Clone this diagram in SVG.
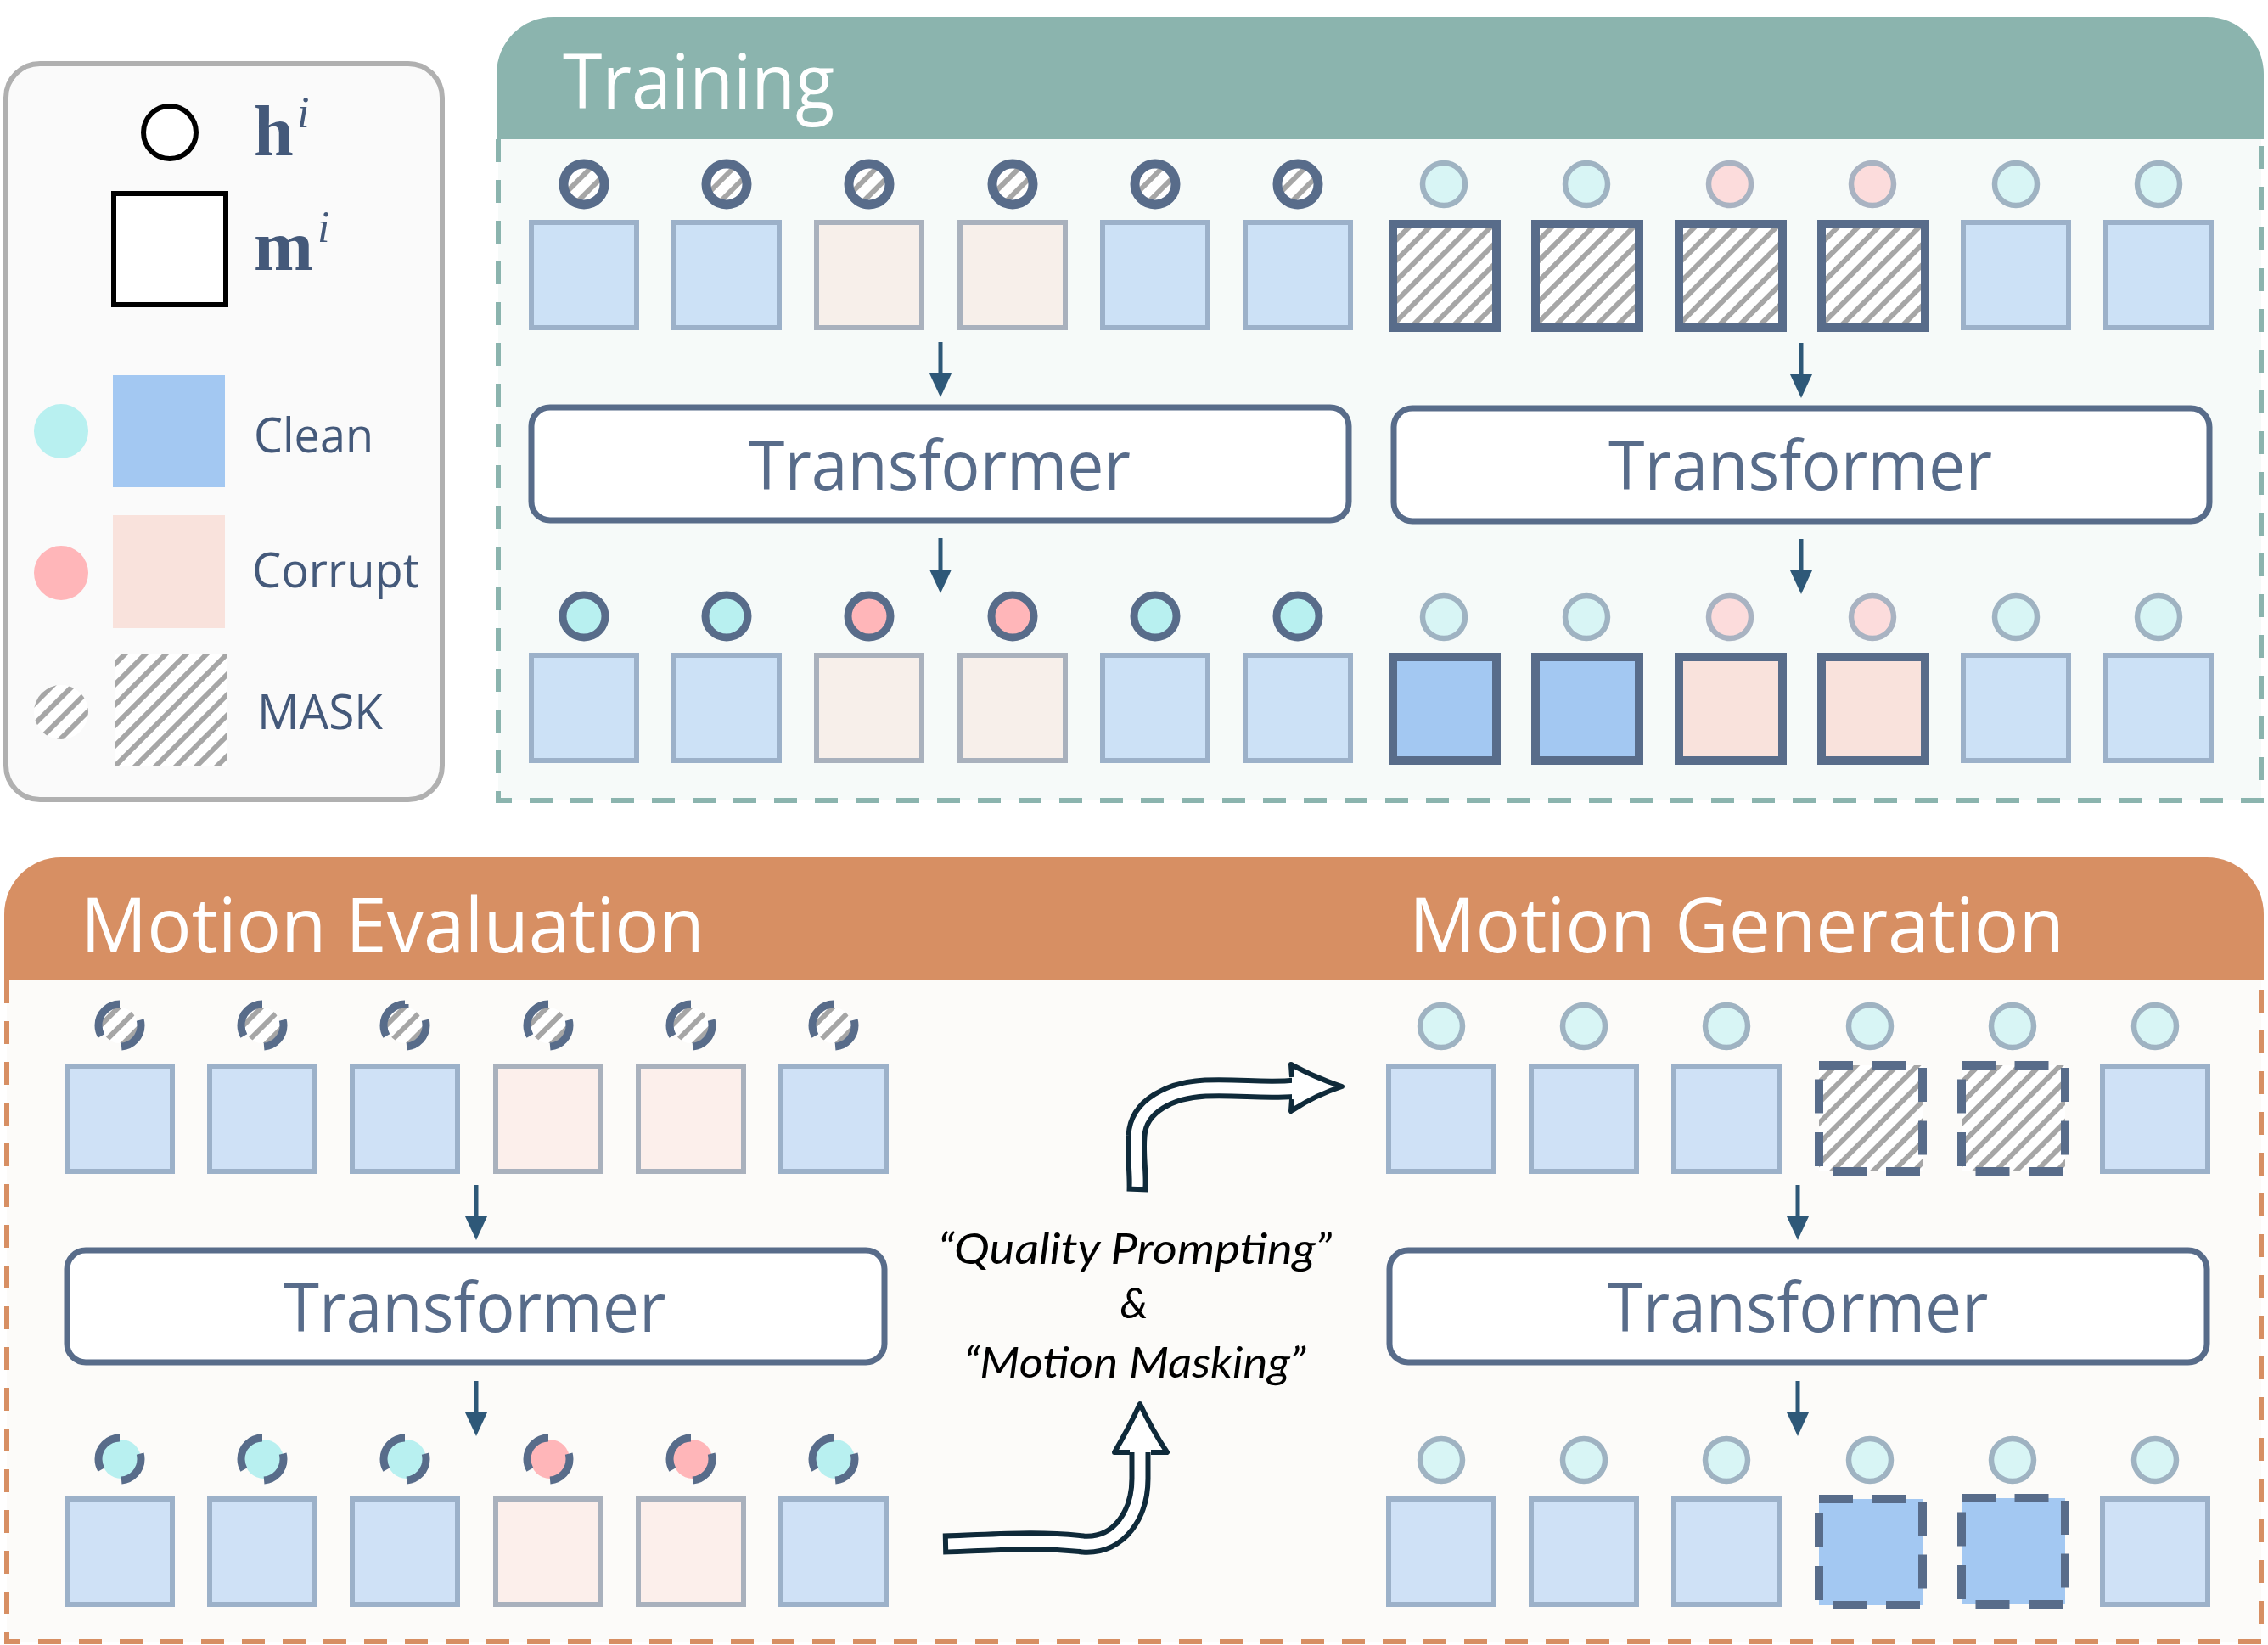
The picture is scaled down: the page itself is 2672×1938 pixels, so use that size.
<svg xmlns="http://www.w3.org/2000/svg" width="2672" height="1938" viewBox="0 0 2672 1938">
<defs>
<pattern id="hatch" patternUnits="userSpaceOnUse" width="17" height="17" patternTransform="rotate(45)">
<rect width="17" height="17" fill="#ffffff"/><rect width="6" height="17" fill="#a6a6a6"/>
</pattern>
<marker id="ah" markerUnits="userSpaceOnUse" markerWidth="28" markerHeight="28" viewBox="0 0 28 28" refX="17" refY="14" orient="auto">
<path d="M0,1 L28,14 L0,27 Z" fill="#2e5878"/>
</marker>
<style>
.sqB{fill:#cce1f6;stroke:#9cb1c9;stroke-width:6}
.sqP{fill:#f7efea;stroke:#a9b1bd;stroke-width:6}
.sqBe{fill:#cfe1f6;stroke:#9cb1c9;stroke-width:6}
.sqPe{fill:#fcefeb;stroke:#a9b1bd;stroke-width:6}
.sqH{fill:url(#hatch);stroke:#586c8a;stroke-width:10}
.sqDB{fill:#a3c8f2;stroke:#586c8a;stroke-width:10}
.sqDP{fill:#f9e2dc;stroke:#586c8a;stroke-width:10}
.sqHd{fill:url(#hatch);stroke:#586c8a;stroke-width:10;stroke-dasharray:40 22.5}
.sqBd{fill:#a3c8f2;stroke:#586c8a;stroke-width:10;stroke-dasharray:40 22.5}
.rH{fill:url(#hatch);stroke:#586c8a;stroke-width:11}
.rC{fill:#b8f0f0;stroke:#586c8a;stroke-width:9}
.rP{fill:#ffb6b9;stroke:#586c8a;stroke-width:9}
.lC{fill:#d8f5f5;stroke:#9fb3c2;stroke-width:6.5}
.lP{fill:#fcdcdc;stroke:#a9b3c2;stroke-width:6.5}
.brk{fill:none;stroke:#586c8a;stroke-width:9;stroke-dasharray:100 65 120 75;stroke-dashoffset:15}
.tf{fill:#ffffff;stroke:#586c8a;stroke-width:7}
.tft{font-family:'Open Sans','Noto Sans',sans-serif;font-size:81px;fill:#586c8a;text-anchor:middle}
.hdr{font-family:'Open Sans','Noto Sans',sans-serif;font-size:90px;fill:#ffffff}
.leg{font-family:'Open Sans','Noto Sans',sans-serif;font-size:57px;fill:#44597a}
.arr{stroke:#2e5878;stroke-width:5;fill:none}
.hand{font-family:'Lato','Noto Sans',sans-serif;font-style:italic;font-size:50px;fill:#000000;text-anchor:middle}
.hd{fill:none;stroke:#0f2a3a;stroke-width:25}
.hw{fill:none;stroke:#ffffff;stroke-width:13}
.hh{fill:#ffffff;stroke:#0f2a3a;stroke-width:6;stroke-linejoin:round}
</style>
</defs>
<rect width="2672" height="1938" fill="#ffffff"/>

<g id="legend">
<rect x="7" y="75" width="514" height="867" rx="40" fill="#fafafa" stroke="#b0b0b0" stroke-width="6"/>
<circle cx="200" cy="156" r="31" fill="#ffffff" stroke="#000000" stroke-width="6"/>
<text x="299" y="183" font-family="'Liberation Serif',serif" font-weight="bold" font-size="84" fill="#44597a">h</text>
<text x="350" y="150" font-family="'Liberation Serif',serif" font-style="italic" font-size="52" fill="#44597a">i</text>
<rect x="134" y="228" width="132" height="131" fill="#ffffff" stroke="#000000" stroke-width="6"/>
<text x="299" y="318" font-family="'Liberation Serif',serif" font-weight="bold" font-size="84" fill="#44597a">m</text>
<text x="374" y="285" font-family="'Liberation Serif',serif" font-style="italic" font-size="52" fill="#44597a">i</text>
<circle cx="72" cy="508" r="32" fill="#b8f0f0"/>
<rect x="133" y="442" width="132" height="132" fill="#a3c8f2"/>
<text class="leg" x="299" y="533" textLength="141" lengthAdjust="spacingAndGlyphs">Clean</text>
<circle cx="72" cy="675" r="32" fill="#ffb6b9"/>
<rect x="133" y="607" width="132" height="133" fill="#f9e2dc"/>
<text class="leg" x="297" y="692" textLength="197" lengthAdjust="spacingAndGlyphs">Corrupt</text>
<circle cx="72" cy="839" r="32" fill="url(#hatch)"/>
<rect x="135" y="771" width="132" height="131" fill="url(#hatch)"/>
<text class="leg" x="303" y="859" textLength="148" lengthAdjust="spacingAndGlyphs">MASK</text>
</g>

<g id="training-panel">
<path d="M587,164 V943 H2664 V164" fill="#f6faf9" stroke="#8bb4ae" stroke-width="6" stroke-dasharray="27 21"/>
<path d="M585,164 V87 A67,67 0 0 1 652,20 H2600 A67,67 0 0 1 2667,87 V164 Z" fill="#8bb4ae"/>
<text class="hdr" x="663" y="128" textLength="320" lengthAdjust="spacingAndGlyphs">Training</text>
</g>

<g id="eval-gen-panel">
<path d="M8,1155 V1934 H2664 V1155" fill="#fcfbf9" stroke="#d78f63" stroke-width="6" stroke-dasharray="27 21"/>
<path d="M5,1155 V1077 A67,67 0 0 1 72,1010 H2600 A67,67 0 0 1 2667,1077 V1155 Z" fill="#d78f63"/>
<text class="hdr" x="95" y="1122" textLength="735" lengthAdjust="spacingAndGlyphs">Motion Evaluation</text>
<text class="hdr" x="1660" y="1122" textLength="772" lengthAdjust="spacingAndGlyphs">Motion Generation</text>
</g>

<g id="training-left-input">
<rect class="sqB" x="626" y="262" width="124" height="124"/>
<rect class="sqB" x="794" y="262" width="124" height="124"/>
<rect class="sqP" x="962" y="262" width="124" height="124"/>
<rect class="sqP" x="1131" y="262" width="124" height="124"/>
<rect class="sqB" x="1299" y="262" width="124" height="124"/>
<rect class="sqB" x="1467" y="262" width="124" height="124"/>
<circle class="rH" cx="688" cy="217" r="24"/>
<circle class="rH" cx="856" cy="217" r="24"/>
<circle class="rH" cx="1024" cy="217" r="24"/>
<circle class="rH" cx="1193" cy="217" r="24"/>
<circle class="rH" cx="1361" cy="217" r="24"/>
<circle class="rH" cx="1529" cy="217" r="24"/>
</g>

<g id="training-right-input">
<rect class="sqH" x="1641" y="264" width="122" height="122"/>
<rect class="sqH" x="1809" y="264" width="122" height="122"/>
<rect class="sqH" x="1978" y="264" width="122" height="122"/>
<rect class="sqH" x="2146" y="264" width="122" height="122"/>
<rect class="sqB" x="2313" y="262" width="124" height="124"/>
<rect class="sqB" x="2481" y="262" width="124" height="124"/>
<circle class="lC" cx="1701" cy="217" r="25"/>
<circle class="lC" cx="1869" cy="217" r="25"/>
<circle class="lP" cx="2038" cy="217" r="25"/>
<circle class="lP" cx="2206" cy="217" r="25"/>
<circle class="lC" cx="2375" cy="217" r="25"/>
<circle class="lC" cx="2543" cy="217" r="25"/>
</g>

<g id="transformer-train-left">
<rect class="tf" x="626" y="480" width="963" height="133" rx="22"/>
<text class="tft" x="1107" y="577" textLength="450" lengthAdjust="spacingAndGlyphs">Transformer</text>
</g>
<g id="transformer-train-right">
<rect class="tf" x="1642" y="481" width="961" height="133" rx="22"/>
<text class="tft" x="2121" y="577" textLength="452" lengthAdjust="spacingAndGlyphs">Transformer</text>
</g>

<g id="training-left-output">
<rect class="sqB" x="626" y="772" width="124" height="124"/>
<rect class="sqB" x="794" y="772" width="124" height="124"/>
<rect class="sqP" x="962" y="772" width="124" height="124"/>
<rect class="sqP" x="1131" y="772" width="124" height="124"/>
<rect class="sqB" x="1299" y="772" width="124" height="124"/>
<rect class="sqB" x="1467" y="772" width="124" height="124"/>
<circle class="rC" cx="688" cy="726" r="25"/>
<circle class="rC" cx="856" cy="726" r="25"/>
<circle class="rP" cx="1024" cy="726" r="25"/>
<circle class="rP" cx="1193" cy="726" r="25"/>
<circle class="rC" cx="1361" cy="726" r="25"/>
<circle class="rC" cx="1529" cy="726" r="25"/>
</g>

<g id="training-right-output">
<rect class="sqDB" x="1641" y="774" width="122" height="122"/>
<rect class="sqDB" x="1809" y="774" width="122" height="122"/>
<rect class="sqDP" x="1978" y="774" width="122" height="122"/>
<rect class="sqDP" x="2146" y="774" width="122" height="122"/>
<rect class="sqB" x="2313" y="772" width="124" height="124"/>
<rect class="sqB" x="2481" y="772" width="124" height="124"/>
<circle class="lC" cx="1701" cy="727" r="25"/>
<circle class="lC" cx="1869" cy="727" r="25"/>
<circle class="lP" cx="2038" cy="727" r="25"/>
<circle class="lP" cx="2206" cy="727" r="25"/>
<circle class="lC" cx="2375" cy="727" r="25"/>
<circle class="lC" cx="2543" cy="727" r="25"/>
</g>

<g id="eval-input">
<rect class="sqBe" x="79" y="1256" width="124" height="124"/>
<rect class="sqBe" x="247" y="1256" width="124" height="124"/>
<rect class="sqBe" x="415" y="1256" width="124" height="124"/>
<rect class="sqPe" x="584" y="1256" width="124" height="124"/>
<rect class="sqPe" x="752" y="1256" width="124" height="124"/>
<rect class="sqBe" x="920" y="1256" width="124" height="124"/>
<g fill="url(#hatch)">
<circle cx="141" cy="1208" r="21"/><circle cx="309" cy="1208" r="21"/><circle cx="477" cy="1208" r="21"/>
<circle cx="646" cy="1208" r="21"/><circle cx="814" cy="1208" r="21"/><circle cx="982" cy="1208" r="21"/>
</g>
<g class="brk">
<circle cx="141" cy="1208" r="25" pathLength="360"/><circle cx="309" cy="1208" r="25" pathLength="360"/><circle cx="477" cy="1208" r="25" pathLength="360"/>
<circle cx="646" cy="1208" r="25" pathLength="360"/><circle cx="814" cy="1208" r="25" pathLength="360"/><circle cx="982" cy="1208" r="25" pathLength="360"/>
</g>
</g>

<g id="transformer-eval">
<rect class="tf" x="79" y="1473" width="963" height="132" rx="22"/>
<text class="tft" x="559" y="1569" textLength="451" lengthAdjust="spacingAndGlyphs">Transformer</text>
</g>

<g id="eval-output">
<rect class="sqBe" x="79" y="1766" width="124" height="124"/>
<rect class="sqBe" x="247" y="1766" width="124" height="124"/>
<rect class="sqBe" x="415" y="1766" width="124" height="124"/>
<rect class="sqPe" x="584" y="1766" width="124" height="124"/>
<rect class="sqPe" x="752" y="1766" width="124" height="124"/>
<rect class="sqBe" x="920" y="1766" width="124" height="124"/>
<circle cx="143" cy="1719" r="23" fill="#b8f0f0"/><circle cx="311" cy="1719" r="23" fill="#b8f0f0"/><circle cx="479" cy="1719" r="23" fill="#b8f0f0"/>
<circle cx="648" cy="1719" r="23" fill="#ffb6b9"/><circle cx="816" cy="1719" r="23" fill="#ffb6b9"/><circle cx="984" cy="1719" r="23" fill="#b8f0f0"/>
<g class="brk">
<circle cx="141" cy="1719" r="25" pathLength="360"/><circle cx="309" cy="1719" r="25" pathLength="360"/><circle cx="477" cy="1719" r="25" pathLength="360"/>
<circle cx="646" cy="1719" r="25" pathLength="360"/><circle cx="814" cy="1719" r="25" pathLength="360"/><circle cx="982" cy="1719" r="25" pathLength="360"/>
</g>
</g>

<g id="gen-input">
<rect class="sqBe" x="1636" y="1256" width="124" height="124"/>
<rect class="sqBe" x="1804" y="1256" width="124" height="124"/>
<rect class="sqBe" x="1972" y="1256" width="124" height="124"/>
<rect class="sqHd" x="2143" y="1255" width="122" height="125"/>
<rect class="sqHd" x="2311" y="1255" width="122" height="125"/>
<rect class="sqBe" x="2477" y="1256" width="124" height="124"/>
<circle class="lC" cx="1698" cy="1209" r="25"/>
<circle class="lC" cx="1866" cy="1209" r="25"/>
<circle class="lC" cx="2034" cy="1209" r="25"/>
<circle class="lC" cx="2203" cy="1209" r="25"/>
<circle class="lC" cx="2371" cy="1209" r="25"/>
<circle class="lC" cx="2539" cy="1209" r="25"/>
</g>

<g id="transformer-gen">
<rect class="tf" x="1637" y="1473" width="963" height="132" rx="22"/>
<text class="tft" x="2118" y="1569" textLength="449" lengthAdjust="spacingAndGlyphs">Transformer</text>
</g>

<g id="gen-output">
<rect class="sqBe" x="1636" y="1766" width="124" height="124"/>
<rect class="sqBe" x="1804" y="1766" width="124" height="124"/>
<rect class="sqBe" x="1972" y="1766" width="124" height="124"/>
<rect class="sqBd" x="2143" y="1766" width="122" height="125"/>
<rect class="sqBd" x="2311" y="1765" width="122" height="125"/>
<rect class="sqBe" x="2477" y="1766" width="124" height="124"/>
<circle class="lC" cx="1698" cy="1720" r="25"/>
<circle class="lC" cx="1866" cy="1720" r="25"/>
<circle class="lC" cx="2034" cy="1720" r="25"/>
<circle class="lC" cx="2203" cy="1720" r="25"/>
<circle class="lC" cx="2371" cy="1720" r="25"/>
<circle class="lC" cx="2539" cy="1720" r="25"/>
</g>

<g id="prompt-label">
<text class="hand" x="1337" y="1489" textLength="464" lengthAdjust="spacingAndGlyphs">“Quality Prompting”</text>
<text class="hand" x="1336" y="1553">&amp;</text>
<text class="hand" x="1337" y="1623" textLength="403" lengthAdjust="spacingAndGlyphs">“Motion Masking”</text>
</g>

<g id="connectors">
<line class="arr" x1="1108" y1="403" x2="1108" y2="457" marker-end="url(#ah)"/>
<line class="arr" x1="1108" y1="634" x2="1108" y2="688" marker-end="url(#ah)"/>
<line class="arr" x1="2122" y1="404" x2="2122" y2="458" marker-end="url(#ah)"/>
<line class="arr" x1="2122" y1="635" x2="2122" y2="689" marker-end="url(#ah)"/>
<line class="arr" x1="561" y1="1396" x2="561" y2="1450" marker-end="url(#ah)"/>
<line class="arr" x1="561" y1="1627" x2="561" y2="1681" marker-end="url(#ah)"/>
<line class="arr" x1="2118" y1="1396" x2="2118" y2="1450" marker-end="url(#ah)"/>
<line class="arr" x1="2118" y1="1627" x2="2118" y2="1681" marker-end="url(#ah)"/>
<g id="hand-arrow-up">
<path class="hd" d="M1111,1819 C1160,1818 1220,1812 1276,1819 C1320,1822 1343,1782 1343,1742 L1343,1708"/>
<path class="hw" d="M1117,1819 C1160,1818 1220,1812 1276,1819 C1320,1822 1343,1782 1343,1742 L1343,1708"/>
<path class="hh" d="M1331,1711 L1313,1711 Q1330,1682 1343,1654 Q1357,1684 1375,1711 L1356,1711"/>
</g>
<g id="hand-arrow-right">
<path class="hd" d="M1340,1404 C1341,1380 1337,1360 1339,1338 C1341,1302 1380,1284 1420,1282 C1460,1280 1490,1286 1527,1282"/>
<path class="hw" d="M1340,1398 C1341,1380 1337,1360 1339,1338 C1341,1302 1380,1284 1420,1282 C1460,1280 1490,1286 1527,1282"/>
<path class="hh" d="M1522,1269 L1521,1254 Q1550,1270 1581,1280 Q1550,1290 1521,1309 L1522,1295"/>
</g>
</g>
</svg>
